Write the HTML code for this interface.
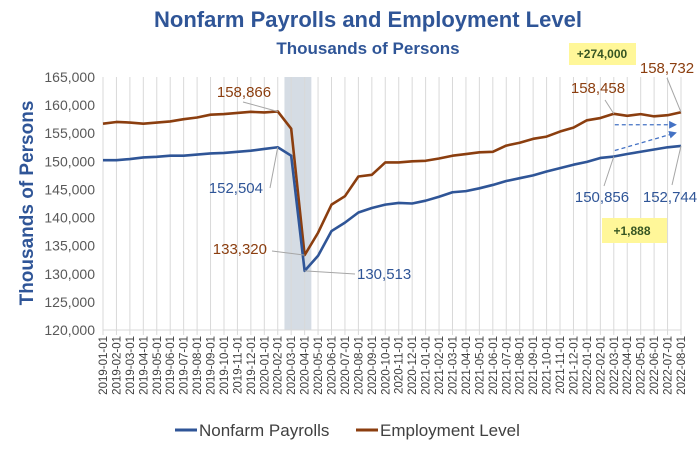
<!DOCTYPE html>
<html><head><meta charset="utf-8"><style>
body{margin:0;background:#fff;}
svg{display:block;font-family:"Liberation Sans",sans-serif;}
</style></head><body>
<svg id="chart" width="700" height="449">
<text x="368" y="27" text-anchor="middle" font-size="22" font-weight="bold" fill="#2F5597">Nonfarm Payrolls and Employment Level</text>
<text x="368" y="54" text-anchor="middle" font-size="17" font-weight="bold" fill="#2F5597">Thousands of Persons</text>
<text transform="translate(33,203) rotate(-90)" text-anchor="middle" font-size="19" font-weight="bold" fill="#2F5597">Thousands of  Persons</text>
<g id="grid"></g><g id="yt"></g><g id="xt"></g><g id="lines"></g><g id="ann"></g>
<g>
<line x1="175" y1="430" x2="197" y2="430" stroke="#2F5597" stroke-width="3"/>
<text x="199" y="436" font-size="17" fill="#404040">Nonfarm Payrolls</text>
<line x1="356" y1="430" x2="378" y2="430" stroke="#8B3E0F" stroke-width="3"/>
<text x="380" y="436" font-size="17" fill="#404040">Employment Level</text>
</g>
</svg>
<script>
const categories=[];for(let y=2019;y<=2022;y++)for(let m=1;m<=12;m++){if(y===2022&&m>8)break;categories.push(y+"-"+String(m).padStart(2,"0")+"-01");}
const payrolls=[150.2,150.2,150.4,150.7,150.8,151.0,151.0,151.2,151.4,151.5,151.7,151.9,152.2,152.504,151.0,130.513,133.2,137.6,139.1,140.9,141.7,142.3,142.6,142.5,143.0,143.7,144.5,144.7,145.2,145.8,146.5,147.0,147.5,148.2,148.8,149.4,149.9,150.6,150.856,151.3,151.7,152.1,152.5,152.744];
const employment=[156.7,157.0,156.9,156.7,156.9,157.1,157.5,157.8,158.3,158.4,158.6,158.8,158.7,158.866,155.8,133.32,137.3,142.3,143.8,147.3,147.6,149.8,149.8,150.0,150.1,150.5,151.0,151.3,151.6,151.7,152.8,153.3,154.0,154.4,155.3,156.0,157.3,157.7,158.458,158.1,158.4,158.0,158.2,158.732];
const yTicks=[120000,125000,130000,135000,140000,145000,150000,155000,160000,165000];
const NS="http://www.w3.org/2000/svg";
const X0=103,X1=681,Y0=330,Y1=77;
const xs=i=>X0+(X1-X0)*i/(categories.length-1);
const ys=v=>Y0-(v*1000-120000)/45000*(Y0-Y1);
function mk(t,a,p){const e=document.createElementNS(NS,t);for(const k in a)e.setAttribute(k,a[k]);p.appendChild(e);return e;}
const grid=document.getElementById("grid"),yt=document.getElementById("yt"),xt=document.getElementById("xt"),lines=document.getElementById("lines");
const sh=mk("rect",{x:xs(13.5),y:Y1,width:xs(15.5)-xs(13.5),height:Y0-Y1,fill:"#D5DCE4"},grid);


categories.forEach((c,i)=>{
 const g=mk("line",{x1:xs(i),x2:xs(i),y1:Y1,y2:Y0+5,stroke:"#D9D9D9","stroke-width":1},grid);
 
 
 const t=mk("text",{transform:`translate(${xs(i)+4},336) rotate(-90)`,"text-anchor":"end","font-size":"11.5",fill:"#404040"},xt);
 t.textContent=c;
 
 
});
const ax=mk("line",{x1:X0,x2:X1,y1:Y0,y2:Y0,stroke:"#D9D9D9"},grid);


yTicks.forEach(v=>{
 const t=mk("text",{x:95,y:ys(v/1000)+5,"text-anchor":"end","font-size":"14",fill:"#595959"},yt);
 t.textContent=v.toLocaleString("en-US");
 
 
});
function line(d,col,name){const p=mk("polyline",{points:d.map((v,i)=>xs(i)+","+ys(v)).join(" "),fill:"none",stroke:col,"stroke-width":2.6,"stroke-linejoin":"round"},lines);
 
 }
line(employment,"#8B3E0F","employment-level-line");
line(payrolls,"#2F5597","nonfarm-payrolls-line");
const ann=document.getElementById("ann");
function label(i,d,tx,ty,lx,ly,col,anchor){
 mk("line",{x1:xs(i),y1:ys(d[i]),x2:lx,y2:ly,stroke:"#A6A6A6","stroke-width":1},ann);
 const t=mk("text",{x:tx,y:ty,"text-anchor":anchor,"font-size":"15",fill:col},ann);
 t.textContent=Math.round(d[i]*1000).toLocaleString("en-US");
 
 
}
label(13,employment,244,97,243,102,"#8B3E0F","middle");
label(13,payrolls,263,193,270,188,"#2F5597","end");
label(15,employment,267,254,272,251,"#8B3E0F","end");
label(15,payrolls,357,279,355,274,"#2F5597","start");
label(38,employment,598,93,605,100,"#8B3E0F","middle");
label(43,employment,667,73,667,78,"#8B3E0F","middle");
label(38,payrolls,602,202,604,186,"#2F5597","middle");
label(43,payrolls,670,202,672,185,"#2F5597","middle");
mk("defs",{},ann).innerHTML='<marker id="ar" markerWidth="6" markerHeight="6" refX="5" refY="3" orient="auto"><path d="M0,0L6,3L0,6z" fill="#4472C4"/></marker>';
mk("line",{x1:xs(38)+1,y1:ys(employment[38])+11,x2:xs(42.6),y2:ys(employment[38])+11,stroke:"#4472C4","stroke-width":1.3,"stroke-dasharray":"4,3","marker-end":"url(#ar)"},ann);
mk("line",{x1:xs(38)+1,y1:ys(payrolls[38])-6,x2:xs(42.6),y2:ys(payrolls[43])-13,stroke:"#4472C4","stroke-width":1.3,"stroke-dasharray":"4,3","marker-end":"url(#ar)"},ann);
const b1=mk("rect",{x:569,y:43,width:67,height:22,fill:"#FFF799"},ann);


const t1=mk("text",{x:602,y:58,"text-anchor":"middle","font-size":"12","font-weight":"bold",fill:"#375623"},ann);t1.textContent="+274,000";
const b2=mk("rect",{x:602,y:218,width:65,height:25,fill:"#FFF799"},ann);


const t2=mk("text",{x:632,y:235,"text-anchor":"middle","font-size":"12","font-weight":"bold",fill:"#375623"},ann);t2.textContent="+1,888";
</script>
</body></html>
